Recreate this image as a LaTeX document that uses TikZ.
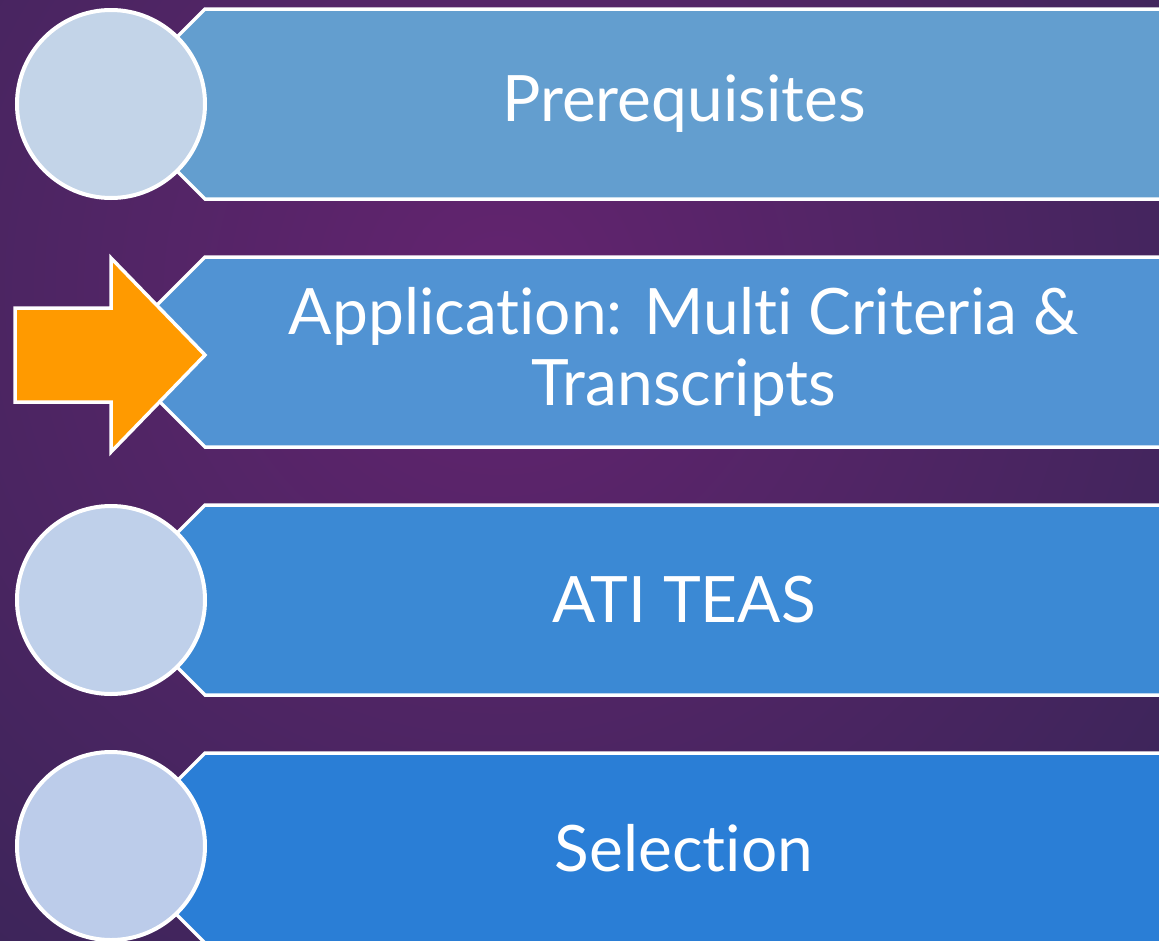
\documentclass[tikz,border=0pt]{standalone}
\usepackage{fontspec}
\setmainfont{Lato}[Ligatures=NoCommon]
\definecolor{bgmid}{HTML}{63246F}
\definecolor{bgedge}{HTML}{2E2652}
\definecolor{bandA}{HTML}{639ECF}
\definecolor{bandB}{HTML}{5193D3}
\definecolor{bandC}{HTML}{3B89D4}
\definecolor{bandD}{HTML}{2A7ED6}
\definecolor{discA}{HTML}{C3D4E8}
\definecolor{discC}{HTML}{BFD0EA}
\definecolor{discD}{HTML}{BCCCEA}
\definecolor{pointer}{HTML}{FF9A00}
\begin{document}
\begin{tikzpicture}[x=1pt,y=-1pt,
  band/.style={draw=white,line width=3.5pt,fill=#1},
  disc/.style={circle,draw=white,line width=4pt,fill=#1,minimum size=188pt,inner sep=0pt},
  caption/.style={text=white,align=center,font=\fontsize{64}{71}\selectfont}]
  \useasboundingbox (0,0) rectangle (1159,940);
  \clip (0,0) rectangle (1159,940);
  \shade [inner color=bgmid,outer color=bgedge] (500,290) circle (1150);
  % banners
  \foreach \y/\c in {104/bandA,352/bandB,600/bandC,848/bandD}
    \filldraw [band=\c] (205,\y-95) -- (1175,\y-95) -- (1175,\y+95)
      -- (205,\y+95) -- (110,\y) -- cycle;
  % markers
  \node [disc=discA] (d1) at (111,104) {};
  \filldraw [draw=white,line width=3.5pt,fill=pointer] (15,308) -- (111,308)
    -- (111,258) -- (205,355) -- (111,452) -- (111,402) -- (15,402) -- cycle;
  \node [disc=discC] (d3) at (111,600) {};
  \node [disc=discD] (d4) at (111,846) {};
  % texts
  \node [caption] (t1) at (684,104) {Prerequisites};
  \node [caption] (t2) at (684,352) {Application: Multi Criteria \&\\Transcripts};
  \node [caption] (t3) at (684,600) {ATI TEAS};
  \node [caption] (t4) at (684,848) {Selection};
\end{tikzpicture}
\end{document}
